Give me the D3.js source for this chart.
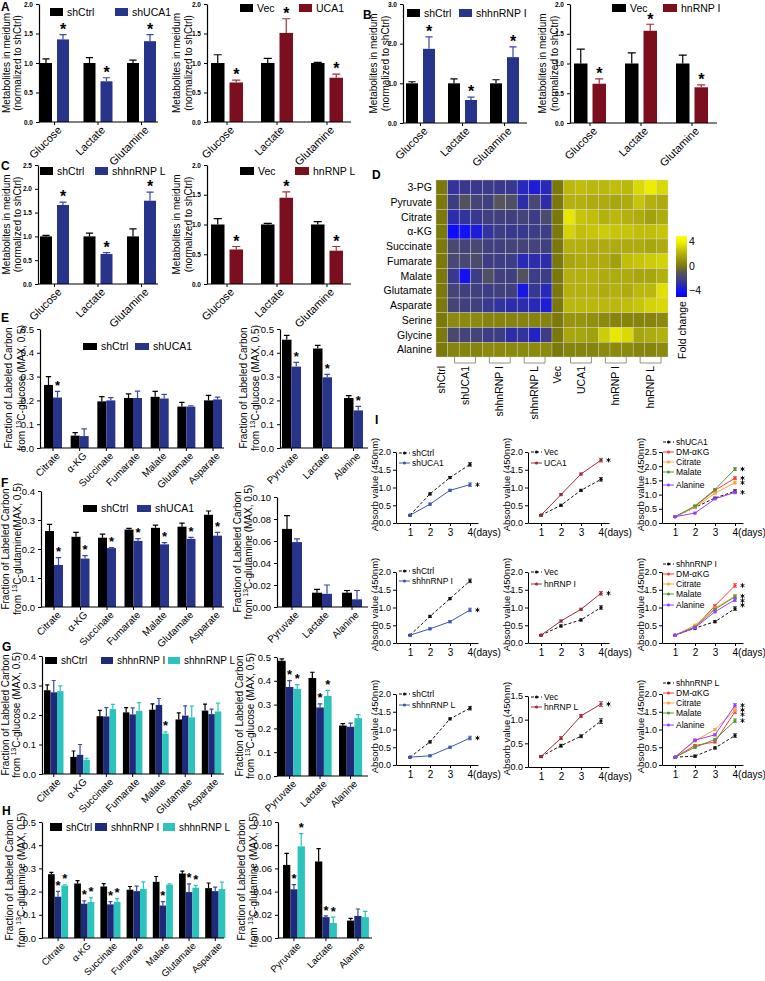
<!DOCTYPE html>
<html>
<head>
<meta charset="utf-8">
<script src="https://d3js.org/d3.v7.min.js"></script>
<style>
  body { margin:0; background:#fff; }
  text { font-family: "Liberation Sans", Arial, Helvetica, sans-serif; }
</style>
</head>
<body>
<script>
// ---------------- data ----------------
var metaCats = ["Glucose", "Lactate", "Glutamine"];
var tcaCats = ["Citrate", "α-KG", "Succinate", "Fumarate", "Malate", "Glutamate", "Asparate"];
var sideCats = ["Pyruvate", "Lactate", "Alanine"];

// A
var aCtrl = [1, 1, 1], aCtrlErr = [0.07, 0.09, 0.05];
var aShUCA1 = [1.40, 0.69, 1.37], aShUCA1Err = [0.08, 0.06, 0.11], aShUCA1Sig = [1, 1, 1];
var aVec = [1, 1, 1], aVecErr = [0.14, 0.08, 0.01];
var aUCA1 = [0.67, 1.51, 0.75], aUCA1Err = [0.04, 0.24, 0.06], aUCA1Sig = [1, 1, 1];
// B
var bCtrl = [1, 1, 1], bCtrlErr = [0.04, 0.11, 0.09];
var bShI = [1.87, 0.58, 1.66], bShIErr = [0.30, 0.07, 0.26], bShISig = [1, 1, 1];
var bVec = [1, 1, 1], bVecErr = [0.24, 0.18, 0.14];
var bHnI = [0.66, 1.55, 0.60], bHnIErr = [0.08, 0.11, 0.04], bHnISig = [1, 1, 1];
// C
var cCtrl = [1, 1, 1], cCtrlErr = [0.02, 0.07, 0.16];
var cShL = [1.66, 0.63, 1.75], cShLErr = [0.06, 0.03, 0.18], cShLSig = [1, 1, 1];
var cVec = [1, 1, 1], cVecErr = [0.10, 0.02, 0.05];
var cHnL = [0.58, 1.45, 0.56], cHnLErr = [0.05, 0.10, 0.07], cHnLSig = [1, 1, 1];

// D heatmap
var heatRows = ["3-PG", "Pyruvate", "Citrate", "α-KG", "Succinate", "Fumarate", "Malate", "Glutamate", "Asparate", "Serine", "Glycine", "Alanine"];
var heatGroups = ["shCtrl", "shUCA1", "shhnRNP I", "shhnRNP L", "Vec", "UCA1", "hnRNP I", "hnRNP L"];
var heatGroupSize = [1, 3, 3, 3, 1, 3, 3, 3];
var heatVals = [
  [0, -2.8, -2.6, -2.6, -2.5, -2.6, -2.6, -3.2, -3.6, -3.2, 0, 2.2, 2.4, 2.2, 2.2, 2.4, 2.2, 3.2, 3.8, 3.2],
  [0, -2.4, -1.2, -2.0, -2.2, -1.0, -1.4, -3.0, -1.8, -3.0, 0, 2.0, 2.0, 1.8, 1.8, 1.6, 1.8, 2.6, 2.0, 1.8],
  [0, -3.0, -2.8, -2.6, -2.2, -2.2, -2.2, -2.0, -2.4, -1.6, 0, 3.6, 2.6, 2.4, 2.0, 2.2, 2.0, 1.8, 1.4, 1.8],
  [0, -4.2, -4.0, -3.6, -2.8, -2.4, -2.6, -2.6, -2.4, -2.4, 0, 3.0, 2.4, 2.6, 2.8, 2.6, 2.6, 2.4, 2.4, 2.6],
  [0, -1.8, -2.0, -1.8, -2.2, -2.2, -2.0, -2.0, -2.0, -2.2, 0, 2.0, 2.0, 1.8, 1.8, 1.8, 1.8, 1.8, 1.6, 1.8],
  [0, -1.8, -1.8, -1.6, -2.4, -2.4, -2.4, -3.2, -3.0, -3.0, 0, 1.6, 1.8, 1.8, 1.8, 1.4, 2.4, 2.6, 2.8, 3.0],
  [0, -2.6, -4.0, -2.4, -1.4, -2.2, -2.2, -1.2, -2.4, -2.4, 0, 2.0, 2.0, 2.0, 1.8, 1.8, 1.8, 1.6, 1.6, 2.0],
  [0, -2.0, -2.2, -2.2, -2.4, -2.2, -2.2, -3.8, -2.6, -3.2, 0, 2.0, 2.0, 2.0, 1.8, 2.0, 1.8, 2.2, 2.2, 3.4],
  [0, -2.0, -2.2, -2.2, -2.6, -2.8, -3.0, -3.0, -3.2, -3.6, 0, 2.2, 2.2, 2.2, 2.2, 2.2, 2.4, 2.6, 3.0, 3.2],
  [0, 0.6, 0.6, 0.6, 0.4, 0.4, 0.4, 0.4, 0.4, 0.4, 0, 1.0, 1.0, 0.8, 0.6, 0.4, 0.4, 0.4, 0.4, 0.6],
  [0, -1.8, -2.0, -2.0, -2.4, -2.4, -3.0, -2.8, -3.4, -2.4, 0, 1.6, 1.6, 1.4, 2.8, 3.6, 3.2, 1.6, 1.8, 2.0],
  [0, 0.4, 0.4, 0.4, 0.6, 0.6, 0.6, 0.6, 0.6, 0.6, 0, 0.4, 0.4, 0.4, 0.6, 0.6, 0.6, 0.4, 0.4, 0.6]
];
var heatTicks = [-4, 0, 4];

// E
var eCtrl = [0.265, 0.052, 0.196, 0.210, 0.215, 0.174, 0.200], eCtrlErr = [0.035, 0.013, 0.020, 0.017, 0.023, 0.018, 0.021];
var eSh = [0.212, 0.050, 0.200, 0.210, 0.208, 0.174, 0.204], eShErr = [0.026, 0.030, 0.012, 0.029, 0.017, 0.003, 0.010], eShSig = [1, 0, 0, 0, 0, 0, 0];
var eCtrlR = [0.455, 0.418, 0.210], eCtrlRErr = [0.018, 0.013, 0.010];
var eShR = [0.342, 0.297, 0.158], eShRErr = [0.018, 0.012, 0.017], eShRSig = [1, 1, 1];
// F
var fCtrl = [0.262, 0.242, 0.239, 0.267, 0.273, 0.277, 0.318], fCtrlErr = [0.023, 0.015, 0.012, 0.004, 0.009, 0.012, 0.013];
var fSh = [0.145, 0.167, 0.203, 0.228, 0.216, 0.235, 0.246], fShErr = [0.025, 0.010, 0.002, 0.008, 0.006, 0.005, 0.011], fShSig = [1, 1, 1, 1, 1, 1, 1];
var fCtrlR = [0.071, 0.013, 0.013], fCtrlRErr = [0.012, 0.003, 0.002];
var fShR = [0.059, 0.012, 0.007], fShRErr = [0.003, 0.008, 0.008];
// G
var gCtrl = [0.284, 0.058, 0.196, 0.209, 0.218, 0.185, 0.215], gCtrlErr = [0.018, 0.020, 0.020, 0.016, 0.020, 0.022, 0.022];
var gShI = [0.277, 0.065, 0.195, 0.202, 0.234, 0.198, 0.203], gShIErr = [0.040, 0.035, 0.030, 0.022, 0.022, 0.033, 0.017];
var gShL = [0.281, 0.048, 0.220, 0.214, 0.137, 0.192, 0.212], gShLErr = [0.018, 0.005, 0.016, 0.028, 0.006, 0.038, 0.028], gShLSig = [0, 0, 0, 0, 1, 0, 0];
var gCtrlR = [0.484, 0.412, 0.212], gCtrlRErr = [0.008, 0.024, 0.008];
var gShIR = [0.374, 0.288, 0.207], gShIRErr = [0.027, 0.015, 0.015], gShIRSig = [1, 1, 0];
var gShLR = [0.366, 0.336, 0.243], gShLRErr = [0.018, 0.024, 0.015], gShLRSig = [1, 1, 0];
// H
var hCtrl = [0.275, 0.235, 0.222, 0.208, 0.242, 0.278, 0.215], hCtrlErr = [0.008, 0.012, 0.012, 0.014, 0.023, 0.010, 0.022];
var hShI = [0.178, 0.148, 0.145, 0.202, 0.140, 0.198, 0.202], hShIErr = [0.023, 0.012, 0.012, 0.022, 0.017, 0.035, 0.017], hShISig = [1, 1, 1, 0, 1, 1, 0];
var hShL = [0.226, 0.155, 0.156, 0.212, 0.230, 0.217, 0.211], hShLErr = [0.003, 0.018, 0.014, 0.030, 0.003, 0.010, 0.030], hShLSig = [1, 1, 1, 0, 0, 1, 0];
var hCtrlR = [0.063, 0.066, 0.015], hCtrlRErr = [0.010, 0.011, 0.002];
var hShIR = [0.042, 0.018, 0.019], hShIRErr = [0.004, 0.001, 0.006], hShIRSig = [1, 1, 0];
var hShLR = [0.079, 0.013, 0.018], hShLRErr = [0.011, 0.005, 0.005], hShLRSig = [1, 1, 0];

// I growth curves (absorbance 450nm)
var days = [1, 2, 3, 4];
var i1Ctrl = [0.22, 0.82, 1.28, 1.65], i1Sh = [0.22, 0.53, 0.92, 1.08];
var i2Vec = [0.22, 0.50, 0.92, 1.23], i2Oe = [0.22, 0.80, 1.38, 1.77];
var i3Sh = [0.22, 0.55, 0.88, 1.12], i3Dm = [0.22, 0.58, 1.15, 1.58], i3Cit = [0.22, 0.55, 1.05, 1.42], i3Mal = [0.22, 0.60, 1.18, 1.90], i3Ala = [0.22, 0.35, 0.85, 1.08];
var i4Ctrl = [0.22, 0.75, 1.25, 1.75], i4Sh = [0.22, 0.40, 0.60, 0.93];
var i5Vec = [0.22, 0.48, 0.65, 1.00], i5Oe = [0.22, 0.62, 0.95, 1.40];
var i6Sh = [0.22, 0.42, 0.60, 0.97], i6Dm = [0.22, 0.45, 1.05, 1.62], i6Cit = [0.22, 0.50, 0.98, 1.32], i6Mal = [0.22, 0.45, 0.95, 1.30], i6Ala = [0.22, 0.43, 0.88, 1.22];
var i7Ctrl = [0.22, 0.65, 1.30, 1.60], i7Sh = [0.22, 0.26, 0.50, 0.76];
var i8Vec = [0.22, 0.45, 0.65, 0.97], i8Oe = [0.22, 0.61, 1.08, 1.33];
var i9Sh = [0.22, 0.25, 0.48, 0.83], i9Dm = [0.22, 0.55, 0.65, 1.50], i9Cit = [0.22, 0.68, 1.00, 1.55], i9Mal = [0.22, 0.50, 0.72, 1.25], i9Ala = [0.22, 0.70, 0.85, 1.68];
var smallErr = [0.02, 0.03, 0.03, 0.05];

// ---------------- drawing ----------------
var BLK = "#000", BLUE = "#26348a", RED = "#7c0f1d", NAVY = "#1f2b7a", TEAL = "#2cc3bd";
var svg = d3.select("body").append("svg").attr("width", 765).attr("height", 981);

function panelLetter(t, x, y) {
  svg.append("text").attr("x", x).attr("y", y).attr("font-size", 12).attr("font-weight", "bold").text(t);
}

function yLabel(lines, xs, cy, fs) {
  lines.forEach(function(line, li) {
    var t = svg.append("text").attr("transform", "translate(" + xs[li] + "," + cy + ") rotate(-90)")
      .attr("text-anchor", "middle").attr("font-size", fs);
    var shift = 0;
    line.forEach(function(seg) {
      if (typeof seg === "string") {
        t.append("tspan").attr("dy", -shift).text(seg);
        shift = 0;
      } else {
        shift = fs * 0.38;
        t.append("tspan").attr("dy", shift * -1).attr("font-size", fs * 0.68).text(seg.sup);
        shift = -shift;
      }
    });
  });
}

function barLegend(items, y, bw, bh, fs) {
  items.forEach(function(it) {
    svg.append("rect").attr("x", it.x).attr("y", y).attr("width", bw).attr("height", bh).attr("fill", it.color);
    svg.append("text").attr("x", it.x + bw + 4).attr("y", y + bh).attr("font-size", fs).text(it.label);
  });
}

function barChart(c) {
  var g = svg.append("g");
  var y = d3.scaleLinear().domain([0, c.yMax]).range([c.yBot, c.yTop]);
  var n = c.cats.length, k = c.series.length;
  var gw = k * c.barW + (k - 1) * c.gap;
  var x = d3.scaleBand().domain(c.cats)
    .range([c.firstX, c.firstX + (n - 1) * c.step + gw])
    .paddingInner(1 - gw / c.step).paddingOuter(0);
  var xi = d3.scaleBand().domain(d3.range(k)).range([0, gw])
    .paddingInner(c.gap / (c.barW + c.gap)).paddingOuter(0);
  var bw = xi.bandwidth();

  c.series.forEach(function(s, si) {
    var rows = s.vals.map(function(v, i) {
      return {cat: c.cats[i], v: v, e: s.errs[i], sig: s.sig ? s.sig[i] : 0};
    });
    var sg = g.append("g");
    sg.selectAll("rect").data(rows).enter().append("rect")
      .attr("x", function(d) { return x(d.cat) + xi(si); })
      .attr("width", bw)
      .attr("y", function(d) { return y(d.v); })
      .attr("height", function(d) { return y(0) - y(d.v); })
      .attr("fill", s.color);
    var ew = Math.max(2, bw * 0.3);
    sg.selectAll("path").data(rows).enter().append("path")
      .attr("d", function(d) {
        var cx = x(d.cat) + xi(si) + bw / 2, t = y(d.v + d.e);
        return "M" + cx + "," + y(d.v) + "V" + t + "M" + (cx - ew) + "," + t + "H" + (cx + ew);
      })
      .attr("fill", "none").attr("stroke", s.err || s.color).attr("stroke-width", 1.2);
    sg.selectAll("text").data(rows.filter(function(d) { return d.sig; })).enter().append("text")
      .attr("x", function(d) { return x(d.cat) + xi(si) + bw / 2; })
      .attr("y", function(d) { return y(d.v + d.e) - 9 + 0.58 * c.starFs; })
      .attr("text-anchor", "middle").attr("font-size", c.starFs).attr("font-weight", "bold").text("*");
  });

  g.append("g").attr("transform", "translate(" + c.axisX + ",0)")
    .call(d3.axisLeft(y).tickValues(d3.range(0, c.yMax + c.tick / 2, c.tick))
      .tickFormat(d3.format(c.fmt)).tickSize(3).tickSizeOuter(0))
    .attr("font-size", c.tickFs).attr("font-weight", c.tickBold ? "bold" : null)
    .call(function(a) { a.select(".domain").attr("stroke-width", 1.2); });

  var xa = g.append("g").attr("transform", "translate(0," + c.yBot + ")")
    .call(d3.axisBottom(x).tickSize(3).tickSizeOuter(0))
    .attr("font-size", c.labFs);
  xa.select(".domain").attr("d", "M" + c.axisX + ",0H" + c.axisEnd).attr("stroke-width", 1.2);
  xa.selectAll(".tick text").attr("x", 0).attr("y", 0).attr("dy", "0.35em")
    .attr("transform", "translate(5,6) rotate(-45)").attr("text-anchor", "end");
}

// ---- A, B, C ----
var ylMeta = [["Metabolites in meidum"], ["(normalized to shCtrl)"]];
function metaPair(L, R, top, bot) {
  barChart({axisX: L.axisX, axisEnd: L.axisEnd, yTop: top, yBot: bot, yMax: L.yMax, tick: L.tick, fmt: ".1f",
    tickFs: 6.5, tickBold: true, cats: metaCats, firstX: L.firstX, step: L.step, barW: 12, gap: 5, labFs: 11, starFs: 16,
    series: L.series});
  barChart({axisX: R.axisX, axisEnd: R.axisEnd, yTop: top, yBot: bot, yMax: 2, tick: 0.5, fmt: ".1f",
    tickFs: 6.5, tickBold: true, cats: metaCats, firstX: R.firstX, step: R.step, barW: 13.5, gap: 5, labFs: 11, starFs: 16,
    series: R.series});
  yLabel(ylMeta, L.ylx, (top + bot) / 2, 10);
  yLabel(ylMeta, R.ylx, (top + bot) / 2, 10);
}

metaPair(
  {axisX: 39, axisEnd: 158, yMax: 2, tick: 0.5, firstX: 40, step: 43.5, ylx: [10, 21],
   series: [{color: BLK, vals: aCtrl, errs: aCtrlErr}, {color: BLUE, err: "#3b4aa3", vals: aShUCA1, errs: aShUCA1Err, sig: aShUCA1Sig}]},
  {axisX: 207, axisEnd: 351, firstX: 211, step: 50, ylx: [180, 192],
   series: [{color: BLK, vals: aVec, errs: aVecErr}, {color: RED, err: "#a3323f", vals: aUCA1, errs: aUCA1Err, sig: aUCA1Sig}]},
  4, 122);
barLegend([{x: 50, color: BLK, label: "shCtrl"}, {x: 115, color: BLUE, label: "shUCA1"}], 8, 13, 8, 10.5);
barLegend([{x: 240, color: BLK, label: "Vec"}, {x: 299, color: RED, label: "UCA1"}], 4, 13, 8, 10.5);

metaPair(
  {axisX: 403, axisEnd: 527, yMax: 3, tick: 1, firstX: 406, step: 42, ylx: [377, 389],
   series: [{color: BLK, vals: bCtrl, errs: bCtrlErr}, {color: BLUE, err: "#3b4aa3", vals: bShI, errs: bShIErr, sig: bShISig}]},
  {axisX: 570, axisEnd: 717, firstX: 574, step: 51, ylx: [546, 558],
   series: [{color: BLK, vals: bVec, errs: bVecErr}, {color: RED, err: "#a3323f", vals: bHnI, errs: bHnIErr, sig: bHnISig}]},
  4, 123);
barLegend([{x: 407, color: BLK, label: "shCtrl"}, {x: 459, color: BLUE, label: "shhnRNP I"}], 9, 13, 8, 10.5);
barLegend([{x: 612, color: BLK, label: "Vec"}, {x: 663, color: RED, label: "hnRNP I"}], 4, 14, 8, 10.5);

metaPair(
  {axisX: 38, axisEnd: 158, yMax: 2.5, tick: 0.5, firstX: 40, step: 43.5, ylx: [10, 21],
   series: [{color: BLK, vals: cCtrl, errs: cCtrlErr}, {color: BLUE, err: "#3b4aa3", vals: cShL, errs: cShLErr, sig: cShLSig}]},
  {axisX: 207, axisEnd: 351, firstX: 211, step: 50, ylx: [180, 192],
   series: [{color: BLK, vals: cVec, errs: cVecErr}, {color: RED, err: "#a3323f", vals: cHnL, errs: cHnLErr, sig: cHnLSig}]},
  165, 284);
barLegend([{x: 40, color: BLK, label: "shCtrl"}, {x: 95, color: BLUE, label: "shhnRNP L"}], 167, 13, 8, 10.5);
barLegend([{x: 240, color: BLK, label: "Vec"}, {x: 295, color: RED, label: "hnRNP L"}], 167, 14, 8, 10.5);

// ---- D heatmap ----
var heatColor = d3.scaleLinear().domain([-4, -2.5, -1, 0, 2, 4])
  .range(["#1212f2", "#3b3b88", "#565659", "#7b790c", "#b3b10e", "#f4f400"]);
var ncol = d3.sum(heatGroupSize);
var hx = d3.scaleBand().domain(d3.range(ncol)).range([436, 668]);
var hy = d3.scaleBand().domain(heatRows).range([180, 357]);
var hg = svg.append("g");
heatRows.forEach(function(r, ri) {
  hg.selectAll(null).data(heatVals[ri]).enter().append("rect")
    .attr("x", function(d, i) { return hx(i); }).attr("y", hy(r))
    .attr("width", hx.bandwidth()).attr("height", hy.bandwidth())
    .attr("fill", function(d) { return heatColor(d); })
    .attr("stroke", "#d8d8d8").attr("stroke-width", 0.5).attr("stroke-opacity", 0.7);
});
hg.selectAll("text.row").data(heatRows).enter().append("text")
  .attr("x", 432).attr("y", function(d) { return hy(d) + hy.bandwidth() / 2; })
  .attr("dy", "0.35em").attr("text-anchor", "end").attr("font-size", 10.5).text(function(d) { return d; });
var start = 0;
heatGroups.forEach(function(gname, gi) {
  var sz = heatGroupSize[gi];
  var cx = hx(start) + sz * hx.bandwidth() / 2;
  if (sz > 1) {
    var x0 = hx(start) + hx.bandwidth() * 0.6, x1 = hx(start + sz - 1) + hx.bandwidth() * 0.4;
    hg.append("path").attr("d", "M" + x0 + ",357V363H" + x1 + "V357")
      .attr("fill", "none").attr("stroke", "#777").attr("stroke-width", 0.8);
  }
  hg.append("text").attr("transform", "translate(" + (cx + 3.5) + ",366) rotate(-90)")
    .attr("text-anchor", "end").attr("font-size", 10.5).text(gname);
  start += sz;
});
// colour bar
var cb = d3.scaleLinear().domain([-4, 4]).range([290.5, 241.5]);
var grad = svg.append("defs").append("linearGradient").attr("id", "fc")
  .attr("x1", 0).attr("y1", 1).attr("x2", 0).attr("y2", 0);
d3.range(0, 1.0001, 0.1).forEach(function(t) {
  var v = cb.invert(297 - t * 61);
  grad.append("stop").attr("offset", t).attr("stop-color", heatColor(Math.max(-4.5, Math.min(4.5, v))));
});
svg.append("rect").attr("x", 676).attr("y", 236).attr("width", 11).attr("height", 61).attr("fill", "url(#fc)");
svg.append("g").attr("transform", "translate(687,0)")
  .call(d3.axisRight(cb).tickValues(heatTicks).tickSize(0).tickPadding(2))
  .attr("font-size", 10.5).call(function(a) { a.select(".domain").remove(); });
svg.append("text").attr("transform", "translate(686,330) rotate(-90)").attr("text-anchor", "middle")
  .attr("font-size", 10.5).text("Fold change");

// ---- E, F, G, H ----
var labC = ["Fraction of Labeled Carbon"];
function fromLine(sub) { return ["from ", {sup: "13"}, sub]; }

barChart({axisX: 40, axisEnd: 224, yTop: 329, yBot: 448, yMax: 0.5, tick: 0.1, fmt: ".1f", tickFs: 9.5,
  cats: tcaCats, firstX: 44, step: 26.67, barW: 9, gap: 0, labFs: 10, starFs: 13,
  series: [{color: BLK, vals: eCtrl, errs: eCtrlErr}, {color: BLUE, err: "#3b4aa3", vals: eSh, errs: eShErr, sig: eShSig}]});
barChart({axisX: 280, axisEnd: 368, yTop: 329, yBot: 448, yMax: 0.5, tick: 0.1, fmt: ".1f", tickFs: 9.5,
  cats: sideCats, firstX: 282, step: 31, barW: 9.5, gap: 0, labFs: 10, starFs: 13,
  series: [{color: BLK, vals: eCtrlR, errs: eCtrlRErr}, {color: BLUE, err: "#3b4aa3", vals: eShR, errs: eShRErr, sig: eShRSig}]});
yLabel([labC, fromLine("C-glucose (MAX, 0.5)")], [12, 25], 388, 10);
yLabel([labC, fromLine("C-glucose (MAX, 0.5)")], [247, 259], 388, 10);
barLegend([{x: 83, color: BLK, label: "shCtrl"}, {x: 135, color: BLUE, label: "shUCA1"}], 343, 14, 7, 10.5);

barChart({axisX: 41, axisEnd: 224, yTop: 491, yBot: 607, yMax: 0.4, tick: 0.1, fmt: ".1f", tickFs: 9.5,
  cats: tcaCats, firstX: 45, step: 26.5, barW: 9, gap: 0, labFs: 10, starFs: 13,
  series: [{color: BLK, vals: fCtrl, errs: fCtrlErr}, {color: BLUE, err: "#3b4aa3", vals: fSh, errs: fShErr, sig: fShSig}]});
barChart({axisX: 277, axisEnd: 368, yTop: 497, yBot: 607, yMax: 0.10, tick: 0.02, fmt: ".2f", tickFs: 9.5,
  cats: sideCats, firstX: 282, step: 30, barW: 10, gap: 0, labFs: 10, starFs: 13,
  series: [{color: BLK, vals: fCtrlR, errs: fCtrlRErr}, {color: BLUE, err: "#3b4aa3", vals: fShR, errs: fShRErr}]});
yLabel([labC, fromLine("C-glutamine(MAX, 0.5)")], [9, 21], 549, 10);
yLabel([labC, fromLine("C-glutamine (MAX, 0.5)")], [241, 252], 552, 10);
barLegend([{x: 83, color: BLK, label: "shCtrl"}, {x: 137, color: BLUE, label: "shUCA1"}], 505, 14, 7, 10.5);

barChart({axisX: 42, axisEnd: 224, yTop: 656, yBot: 774, yMax: 0.4, tick: 0.1, fmt: ".1f", tickFs: 9.5,
  cats: tcaCats, firstX: 44, step: 26.3, barW: 6.5, gap: 0, labFs: 10, starFs: 13,
  series: [{color: BLK, vals: gCtrl, errs: gCtrlErr}, {color: NAVY, err: "#3b4aa3", vals: gShI, errs: gShIErr},
           {color: TEAL, vals: gShL, errs: gShLErr, sig: gShLSig}]});
barChart({axisX: 277, axisEnd: 368, yTop: 657, yBot: 776, yMax: 0.5, tick: 0.1, fmt: ".1f", tickFs: 9.5,
  cats: sideCats, firstX: 278, step: 30.5, barW: 7.7, gap: 0, labFs: 10, starFs: 13,
  series: [{color: BLK, vals: gCtrlR, errs: gCtrlRErr}, {color: NAVY, err: "#3b4aa3", vals: gShIR, errs: gShIRErr, sig: gShIRSig},
           {color: TEAL, vals: gShLR, errs: gShLRErr, sig: gShLRSig}]});
yLabel([labC, fromLine("C-glucose (MAX, 0.5)")], [9, 20], 715, 10);
yLabel([labC, fromLine("C-glucose (MAX, 0.5)")], [243, 254], 716, 10);
barLegend([{x: 45, color: BLK, label: "shCtrl"}, {x: 101, color: NAVY, label: "shhnRNP I"},
           {x: 168, color: TEAL, label: "shhnRNP L"}], 657, 12, 7, 10);

barChart({axisX: 42, axisEnd: 224, yTop: 822, yBot: 938, yMax: 0.5, tick: 0.1, fmt: ".1f", tickFs: 9.5,
  cats: tcaCats, firstX: 48, step: 26.2, barW: 6.7, gap: 0, labFs: 9.6, starFs: 13,
  series: [{color: BLK, vals: hCtrl, errs: hCtrlErr}, {color: NAVY, err: "#3b4aa3", vals: hShI, errs: hShIErr, sig: hShISig},
           {color: TEAL, vals: hShL, errs: hShLErr, sig: hShLSig}]});
barChart({axisX: 278, axisEnd: 372, yTop: 822, yBot: 938, yMax: 0.10, tick: 0.02, fmt: ".2f", tickFs: 9.5,
  cats: sideCats, firstX: 283, step: 32, barW: 7.3, gap: 0, labFs: 9.6, starFs: 13,
  series: [{color: BLK, vals: hCtrlR, errs: hCtrlRErr}, {color: NAVY, err: "#3b4aa3", vals: hShIR, errs: hShIRErr, sig: hShIRSig},
           {color: TEAL, vals: hShLR, errs: hShLRErr, sig: hShLRSig}]});
yLabel([labC, fromLine("C-glutamine (MAX, 0.5)")], [13, 25], 880, 10);
yLabel([labC, fromLine("C-glutamine (MAX, 0.5)")], [245, 257], 880, 10);
barLegend([{x: 50, color: BLK, label: "shCtrl"}, {x: 95, color: NAVY, label: "shhnRNP I"},
           {x: 163, color: TEAL, label: "shhnRNP L"}], 823, 12, 8, 10);

// ---- I growth curves ----
var IC = {ctrl: "#111", sh: "#3d58a8", oe: "#9c2b37", dm: "#ff3b3b", cit: "#ffa33a", mal: "#4f9a35", ala: "#9a3cff"};
var starSym = d3.symbol().type(d3.symbolAsterisk).size(14);
function linePanel(c) {
  var g = svg.append("g");
  var x = d3.scaleLinear().domain([c.d0, 4.4]).range([c.axisX, c.axisX + (4.4 - c.d0) * 20]);
  var y = d3.scaleLinear().domain([0, c.yMax]).range([c.yBot, c.yTop]);
  g.append("g").attr("transform", "translate(" + c.axisX + ",0)")
    .call(d3.axisLeft(y).tickValues(d3.range(0, c.yMax + 0.01, 0.5)).tickFormat(d3.format(".1f"))
      .tickSize(3).tickSizeOuter(0).tickPadding(2))
    .attr("font-size", 9);
  var xa = g.append("g").attr("transform", "translate(0," + c.yBot + ")")
    .call(d3.axisBottom(x).tickValues(days).tickFormat(function(d) { return d === 4 ? "4(days)" : d; })
      .tickSize(3).tickSizeOuter(0))
    .attr("font-size", 10);
  xa.selectAll(".tick text").filter(function(d) { return d === 4; }).attr("text-anchor", "start").attr("x", -3);
  var line = d3.line().x(function(d, i) { return x(days[i]); }).y(function(d) { return y(d); });
  var stars = [];
  c.series.forEach(function(s) {
    g.append("path").datum(s.vals).attr("d", line).attr("fill", "none").attr("stroke", s.color)
      .attr("stroke-width", 1).attr("stroke-dasharray", s.dash ? "3,2" : null);
    g.selectAll(null).data(s.vals).enter().append("path")
      .attr("d", function(d, i) {
        var cx = x(days[i]), e = smallErr[i];
        return "M" + cx + "," + y(d - e) + "V" + y(d + e) + "M" + (cx - 2) + "," + y(d + e) + "H" + (cx + 2) +
          "M" + (cx - 2) + "," + y(d - e) + "H" + (cx + 2);
      })
      .attr("stroke", s.color).attr("stroke-width", 0.8).attr("fill", "none");
    g.selectAll(null).data(s.vals).enter().append("circle")
      .attr("cx", function(d, i) { return x(days[i]); }).attr("cy", function(d) { return y(d); })
      .attr("r", 1.6).attr("fill", s.color);
    if (!s.dash) stars.push(y(s.vals[3]));
  });
  // significance stars at day 4, drawn as asterisk symbols and stacked like the original
  stars.sort(d3.ascending);
  for (var i = 1; i < stars.length; i++) if (stars[i] - stars[i - 1] < 4.5) stars[i] = stars[i - 1] + 4.5;
  g.selectAll(null).data(stars).enter().append("path")
    .attr("transform", function(d) { return "translate(" + (x(4) + 7.5) + "," + d + ")"; })
    .attr("d", starSym).attr("stroke", "#000").attr("stroke-width", 0.9).attr("fill", "none");
  c.series.forEach(function(s, i) {
    var ly = c.legY[i];
    g.append("line").attr("x1", c.legX).attr("x2", c.legX + 11).attr("y1", ly).attr("y2", ly)
      .attr("stroke", s.color).attr("stroke-dasharray", s.dash ? "3,2" : null);
    g.append("circle").attr("cx", c.legX + 5.5).attr("cy", ly).attr("r", 1.6).attr("fill", s.color);
    g.append("text").attr("x", c.legX + 13).attr("y", ly).attr("dy", "0.35em").attr("font-size", 8.5).text(s.label);
  });
  svg.append("text").attr("transform", "translate(" + c.labX + "," + ((c.yTop + c.yBot) / 2 - 3) + ") rotate(-90)")
    .attr("text-anchor", "middle").attr("font-size", 9.5).text("Absorb value (450nm)");
}
function mk(ctrl, label, color, vals) { return {label: label, color: color, vals: vals, dash: ctrl}; }

var colX = [{axisX: 396, d0: 0.3, legX: 399, labX: 378}, {axisX: 528, d0: 0.35, legX: 531, labX: 510},
            {axisX: 662, d0: 0.35, legX: 663, labX: 644}];
function cfg(col, o) { return Object.assign({}, colX[col], o); }

linePanel(cfg(0, {yTop: 452, yBot: 523, yMax: 2, legY: [453, 463],
  series: [mk(true, "shCtrl", IC.ctrl, i1Ctrl), mk(false, "shUCA1", IC.sh, i1Sh)]}));
linePanel(cfg(1, {yTop: 452, yBot: 523, yMax: 2, legY: [452, 463],
  series: [mk(true, "Vec", IC.ctrl, i2Vec), mk(false, "UCA1", IC.oe, i2Oe)]}));
linePanel(cfg(2, {yTop: 452, yBot: 523, yMax: 2.5, legY: [442, 452, 462, 472, 485],
  series: [mk(true, "shUCA1", IC.ctrl, i3Sh), mk(false, "DM-αKG", IC.dm, i3Dm), mk(false, "Citrate", IC.cit, i3Cit),
           mk(false, "Malate", IC.mal, i3Mal), mk(false, "Alanine", IC.ala, i3Ala)]}));

linePanel(cfg(0, {yTop: 572, yBot: 643, yMax: 2, legY: [571, 581],
  series: [mk(true, "shCtrl", IC.ctrl, i4Ctrl), mk(false, "shhnRNP I", IC.sh, i4Sh)]}));
linePanel(cfg(1, {yTop: 572, yBot: 643, yMax: 2, legY: [572, 584],
  series: [mk(true, "Vec", IC.ctrl, i5Vec), mk(false, "hnRNP I", IC.oe, i5Oe)]}));
linePanel(cfg(2, {yTop: 572, yBot: 643, yMax: 2, legY: [564, 574, 584, 594, 605],
  series: [mk(true, "shhnRNP I", IC.ctrl, i6Sh), mk(false, "DM-αKG", IC.dm, i6Dm), mk(false, "Citrate", IC.cit, i6Cit),
           mk(false, "Malate", IC.mal, i6Mal), mk(false, "Alanine", IC.ala, i6Ala)]}));

linePanel(cfg(0, {yTop: 694, yBot: 765, yMax: 2, legY: [694, 705],
  series: [mk(true, "shCtrl", IC.ctrl, i7Ctrl), mk(false, "shhnRNP L", IC.sh, i7Sh)]}));
linePanel(cfg(1, {yTop: 696, yBot: 767, yMax: 1.5, legY: [697, 707],
  series: [mk(true, "Vec", IC.ctrl, i8Vec), mk(false, "hnRNP L", IC.oe, i8Oe)]}));
linePanel(cfg(2, {yTop: 694, yBot: 765, yMax: 2, legY: [683, 693, 703, 713, 725],
  series: [mk(true, "shhnRNP L", IC.ctrl, i9Sh), mk(false, "DM-αKG", IC.dm, i9Dm), mk(false, "Citrate", IC.cit, i9Cit),
           mk(false, "Malate", IC.mal, i9Mal), mk(false, "Alanine", IC.ala, i9Ala)]}));

// panel letters
panelLetter("A", 1, 11);
panelLetter("B", 363, 19);
panelLetter("C", 1, 170);
panelLetter("D", 372, 179);
panelLetter("E", 1, 322);
panelLetter("F", 1, 487);
panelLetter("G", 2, 651);
panelLetter("H", 2, 815);
panelLetter("I", 375, 424);
</script>
</body>
</html>
